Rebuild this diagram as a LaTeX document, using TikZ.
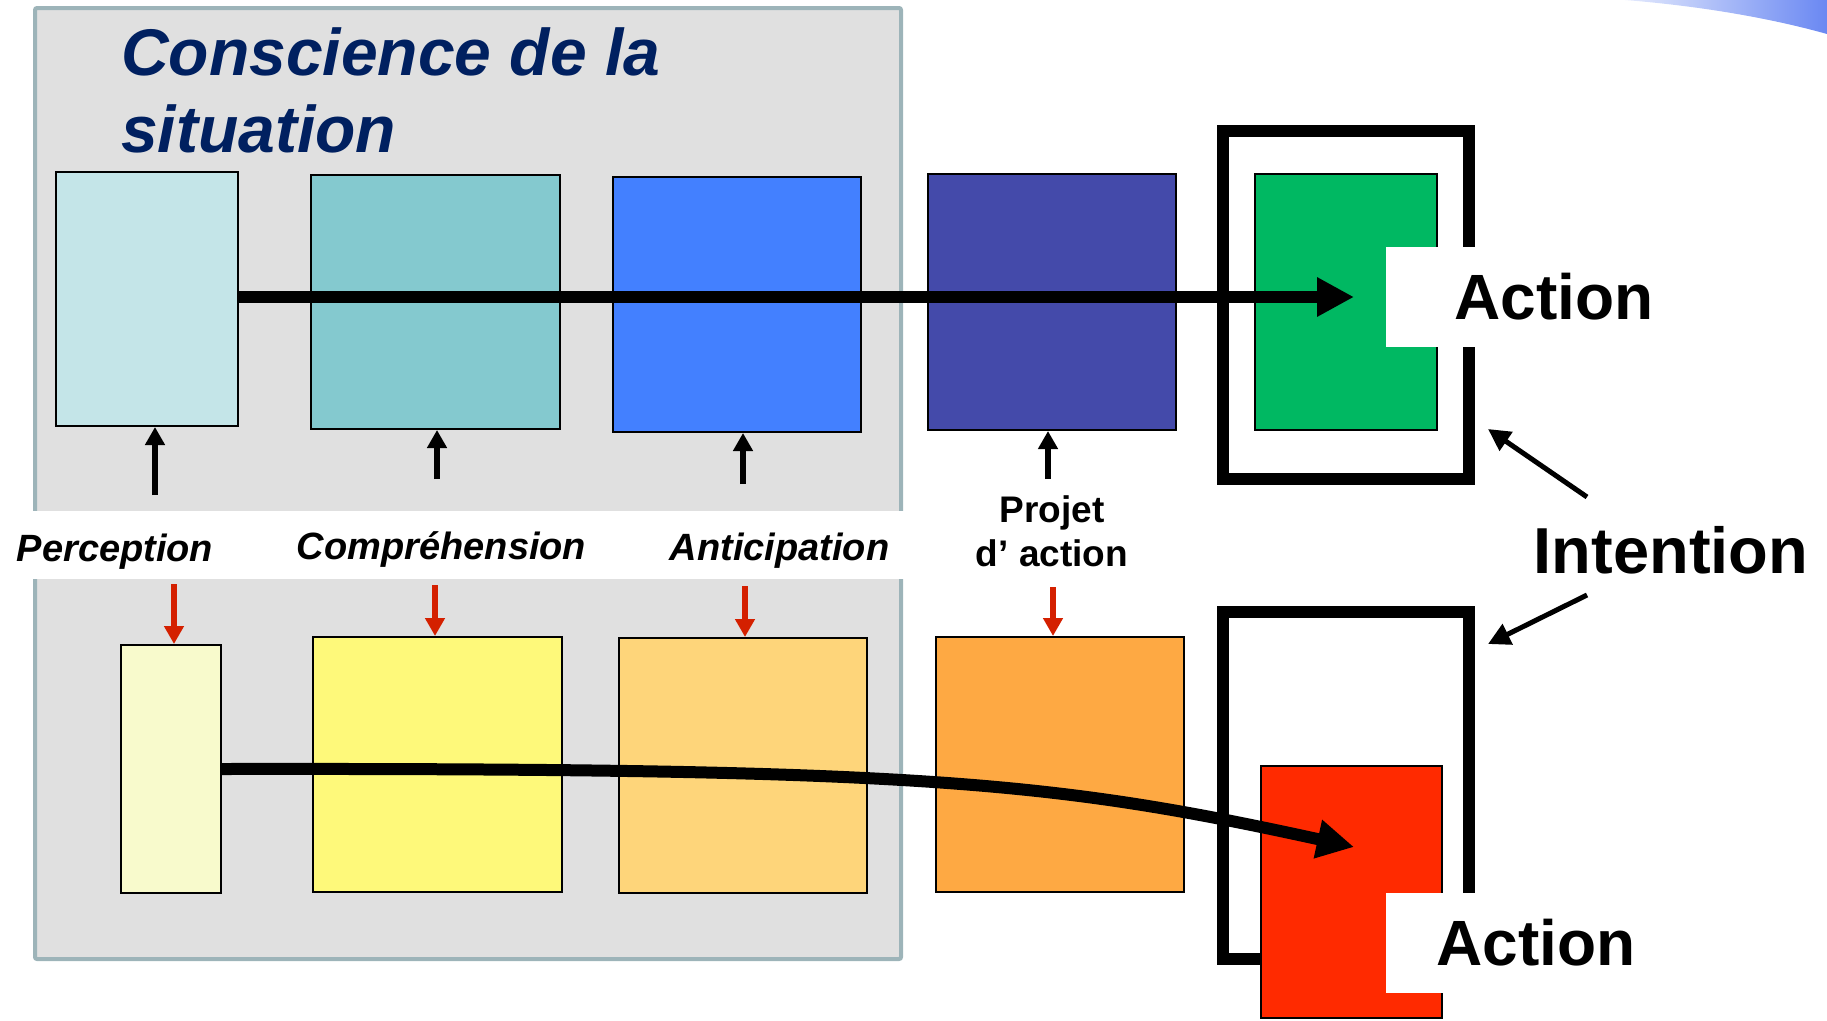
\documentclass[tikz,border=0pt]{standalone}
\usepackage{fontspec}
\setmainfont{Liberation Sans}
\usetikzlibrary{arrows.meta,positioning,calc}

\definecolor{panelfill}{HTML}{E0E0E0}
\definecolor{paneledge}{HTML}{9DB4B9}
\definecolor{titleblue}{HTML}{002060}
\definecolor{perone}{HTML}{C4E5E8}
\definecolor{comone}{HTML}{84C9CF}
\definecolor{antone}{HTML}{4380FF}
\definecolor{projone}{HTML}{444AAA}
\definecolor{actone}{HTML}{00B862}
\definecolor{pertwo}{HTML}{F8FACC}
\definecolor{comtwo}{HTML}{FEF97A}
\definecolor{anttwo}{HTML}{FED57A}
\definecolor{projtwo}{HTML}{FEA943}
\definecolor{acttwo}{HTML}{FF2A00}
\definecolor{cuered}{HTML}{D42000}
\definecolor{swooshlight}{HTML}{E4EAFD}
\definecolor{swooshdark}{HTML}{6A88F2}

\begin{document}
\begin{tikzpicture}[x=1pt,y=-1pt,
  stagebox/.style={draw,rectangle,line width=2pt,inner sep=0pt},
  intentframe/.style={draw,rectangle,line width=12pt,inner sep=0pt},
  stagename/.style={inner sep=0pt,anchor=base,font=\fontsize{38}{44}\selectfont\bfseries\itshape},
  notch/.style={fill=white,rectangle,inner sep=0pt,minimum height=100,font=\fontsize{64}{70}\selectfont\bfseries},
  uparrow/.style={line width=5.5pt,-{Triangle[length=18pt,width=19pt]}},
  downarrow/.style={uparrow,cuered},
  fatarrow/.style={line width=12pt,-{Triangle[length=37pt,width=37pt]}},
  pointer/.style={line width=5pt,-{Triangle[length=22pt,width=22pt]}}]

\useasboundingbox (0,0) rectangle (1827,1020);

\shade[left color=swooshlight,right color=swooshdark] (1625,0) .. controls (1700,6) and (1770,18) .. (1827,34) -- (1827,0) -- cycle;

\draw[fill=panelfill,draw=paneledge,line width=4pt,rounded corners=2pt] (35,8) rectangle (901,959);
\fill[white] (0,511) rectangle (906,579);

\node (title) [anchor=north west,inner sep=0pt,align=left,text=titleblue,font=\fontsize{66}{77}\selectfont\bfseries\itshape] at (121,27) {Conscience de la\\situation};

\node (per1) [stagebox,fill=perone,minimum width=182,minimum height=254] at (147,299) {};
\node (com1) [stagebox,fill=comone,minimum width=249,minimum height=254] at (435.5,302) {};
\node (ant1) [stagebox,fill=antone,minimum width=248,minimum height=255] at (737,304.5) {};
\node (proj1) [stagebox,fill=projone,minimum width=248,minimum height=256] at (1052,302) {};
\node (frame1) [intentframe,minimum width=246,minimum height=348] at (1346,305) {};
\node (act1) [stagebox,fill=actone,minimum width=182,minimum height=256] at (1346,302) {};

\node (per2) [stagebox,fill=pertwo,minimum width=100,minimum height=248] at (171,769) {};
\node (com2) [stagebox,fill=comtwo,minimum width=249,minimum height=255] at (437.5,764.5) {};
\node (ant2) [stagebox,fill=anttwo,minimum width=248,minimum height=255] at (743,765.5) {};
\node (proj2) [stagebox,fill=projtwo,minimum width=248,minimum height=255] at (1060,764.5) {};
\node (frame2) [intentframe,minimum width=246,minimum height=347] at (1346,785.5) {};
\node (act2) [stagebox,fill=acttwo,minimum width=181,minimum height=252] at (1351.5,892) {};

\node (action1) [notch,minimum width=336] at (1554,297) {Action};
\node (action2) [notch,minimum width=300] at (1536,943) {Action};

\node (perc) [stagename] at (115,561) {Perception};
\node (compr) [stagename] at (441.5,559) {Compréhension};
\node (antic) [stagename] at (779.5,560) {Anticipation};
\node (projet) [anchor=north,inner sep=0pt,align=center,font=\fontsize{37}{44}\selectfont\bfseries] at (1052,495) {Projet\\d’ action};
\node (intent) [anchor=base,inner sep=0pt,font=\fontsize{65}{70}\selectfont\bfseries] at (1671,573) {Intention};

\coordinate (up1) at (155,495);
\coordinate (up2) at (437,479);
\coordinate (up3) at (743,484);
\coordinate (up4) at (1048,479);
\draw[uparrow] (up1) -- (up1 |- per1.south);
\draw[uparrow] (up2) -- (up2 |- com1.south);
\draw[uparrow] (up3) -- (up3 |- ant1.south);
\draw[uparrow] (up4) -- (up4 |- proj1.south);

\coordinate (down1) at (174,584);
\coordinate (down2) at (435,585);
\coordinate (down3) at (745,586);
\coordinate (down4) at (1053,587);
\draw[downarrow] (down1) -- (down1 |- per2.north);
\draw[downarrow] (down2) -- (down2 |- com2.north);
\draw[downarrow] (down3) -- (down3 |- ant2.north);
\draw[downarrow] (down4) -- (down4 |- proj2.north);

\coordinate (aim1) at (1354,297);
\coordinate (aim2) at (1354,847);
\draw[fatarrow] (per1.east |- aim1) -- (aim1);
\draw[fatarrow] (per2.east) .. controls (921,768) and (1052,781) .. (aim2);

\coordinate (tail1) at (1587,497);
\coordinate (tail2) at (1587,595);
\draw[pointer] (tail1) -- ([shift={(13,-56)}]frame1.south east);
\draw[pointer] (tail2) -- ([shift={(13,38)}]frame2.north east);

\end{tikzpicture}
\end{document}
